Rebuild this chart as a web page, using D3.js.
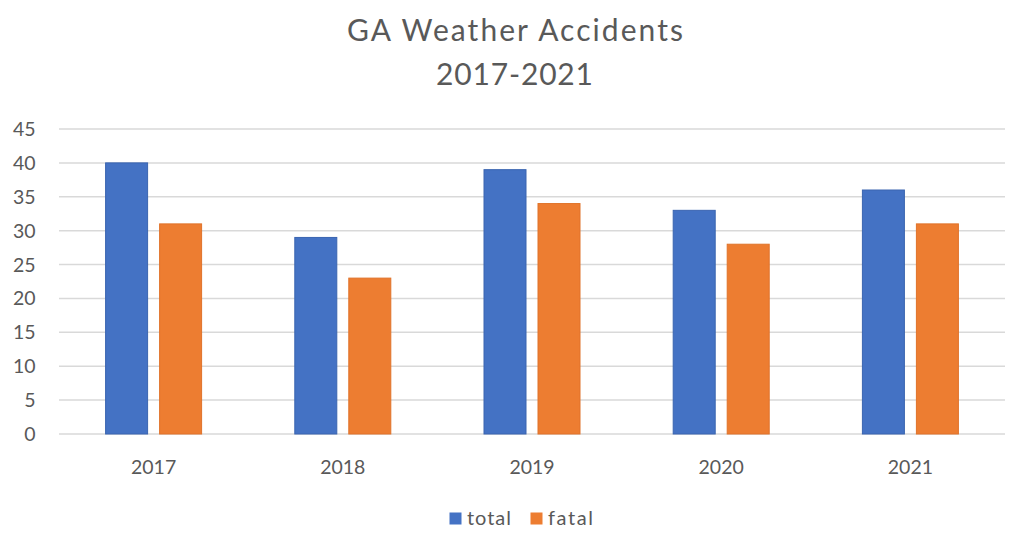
<!DOCTYPE html>
<html><head><meta charset="utf-8">
<script src="https://cdn.jsdelivr.net/npm/d3@7"></script>
<style>body{margin:0;background:#fff}svg{display:block}text{font-family:Lato,"Open Sans",sans-serif;fill:#595959}</style>
</head><body><svg id="c" width="1024" height="540"></svg>
<script>
const years = ["2017","2018","2019","2020","2021"];
const seriesNames = ["total","fatal"];
const totalValues = [40,29,39,33,36];
const fatalValues = [31,23,34,28,31];
const yTicks = [0,5,10,15,20,25,30,35,40,45];
const colors = ["#4472C4","#ED7D31"];
const strokes = ["#3a64b0","#e0732a"];

(function(){
const svg = d3.select("#c");
const pLeft = 59, pRight = 1005, pTop = 129, pBottom = 434;
const x = d3.scaleBand().domain(years).range([pLeft,pRight]).paddingInner(0).paddingOuter(0);
const inner = d3.scaleBand().domain(seriesNames).range([0,96]).paddingInner(12/54).paddingOuter(0);
const y = d3.scaleLinear().domain([0,45]).range([pBottom,pTop]);

svg.append("g").selectAll("line").data(yTicks).join("line")
  .attr("x1",pLeft).attr("x2",pRight).attr("y1",d=>y(d)).attr("y2",d=>y(d))
  .attr("stroke","#d9d9d9").attr("stroke-width",1.5);

svg.append("g").selectAll("text").data(yTicks).join("text")
  .attr("x",35.5).attr("y",d=>y(d)).attr("dy","0.36em").attr("text-anchor","end")
  .attr("font-size",19.5).text(d=>d);

const data = years.map((yr,i)=>({yr, vals:[totalValues[i],fatalValues[i]]}));
const off = (x.bandwidth()-96)/2;
const g = svg.append("g").selectAll("g").data(data).join("g")
  .attr("transform",d=>`translate(${x(d.yr)+off},0)`);
g.selectAll("rect").data(d=>d.vals.map((v,j)=>({v,j}))).join("rect")
  .attr("x",d=>inner(seriesNames[d.j])).attr("width",inner.bandwidth())
  .attr("y",d=>y(d.v)).attr("height",d=>y(0)-y(d.v))
  .attr("fill",d=>colors[d.j]).attr("stroke",d=>strokes[d.j]).attr("stroke-width",1);

svg.append("g").selectAll("text").data(years).join("text")
  .attr("x",d=>x(d)+x.bandwidth()/2).attr("y",474).attr("text-anchor","middle")
  .attr("font-size",19.5).text(d=>d);

svg.append("text").attr("x",347).attr("y",41).attr("font-size",30)
  .attr("textLength",336).attr("lengthAdjust","spacing").text("GA Weather Accidents");
svg.append("text").attr("x",436).attr("y",85).attr("font-size",30)
  .attr("textLength",157).attr("lengthAdjust","spacing").text("2017-2021");

const leg = svg.append("g");
const legX = [449.5,530.5];
const legW = [44,45];
seriesNames.forEach((s,i)=>{
  leg.append("rect").attr("x",legX[i]).attr("y",512.5).attr("width",12).attr("height",12).attr("fill",colors[i]);
  leg.append("text").attr("x",legX[i]+17.5).attr("y",524.5).attr("font-size",20)
    .attr("textLength",legW[i]).attr("lengthAdjust","spacing").text(s);
});
})();
</script></body></html>
